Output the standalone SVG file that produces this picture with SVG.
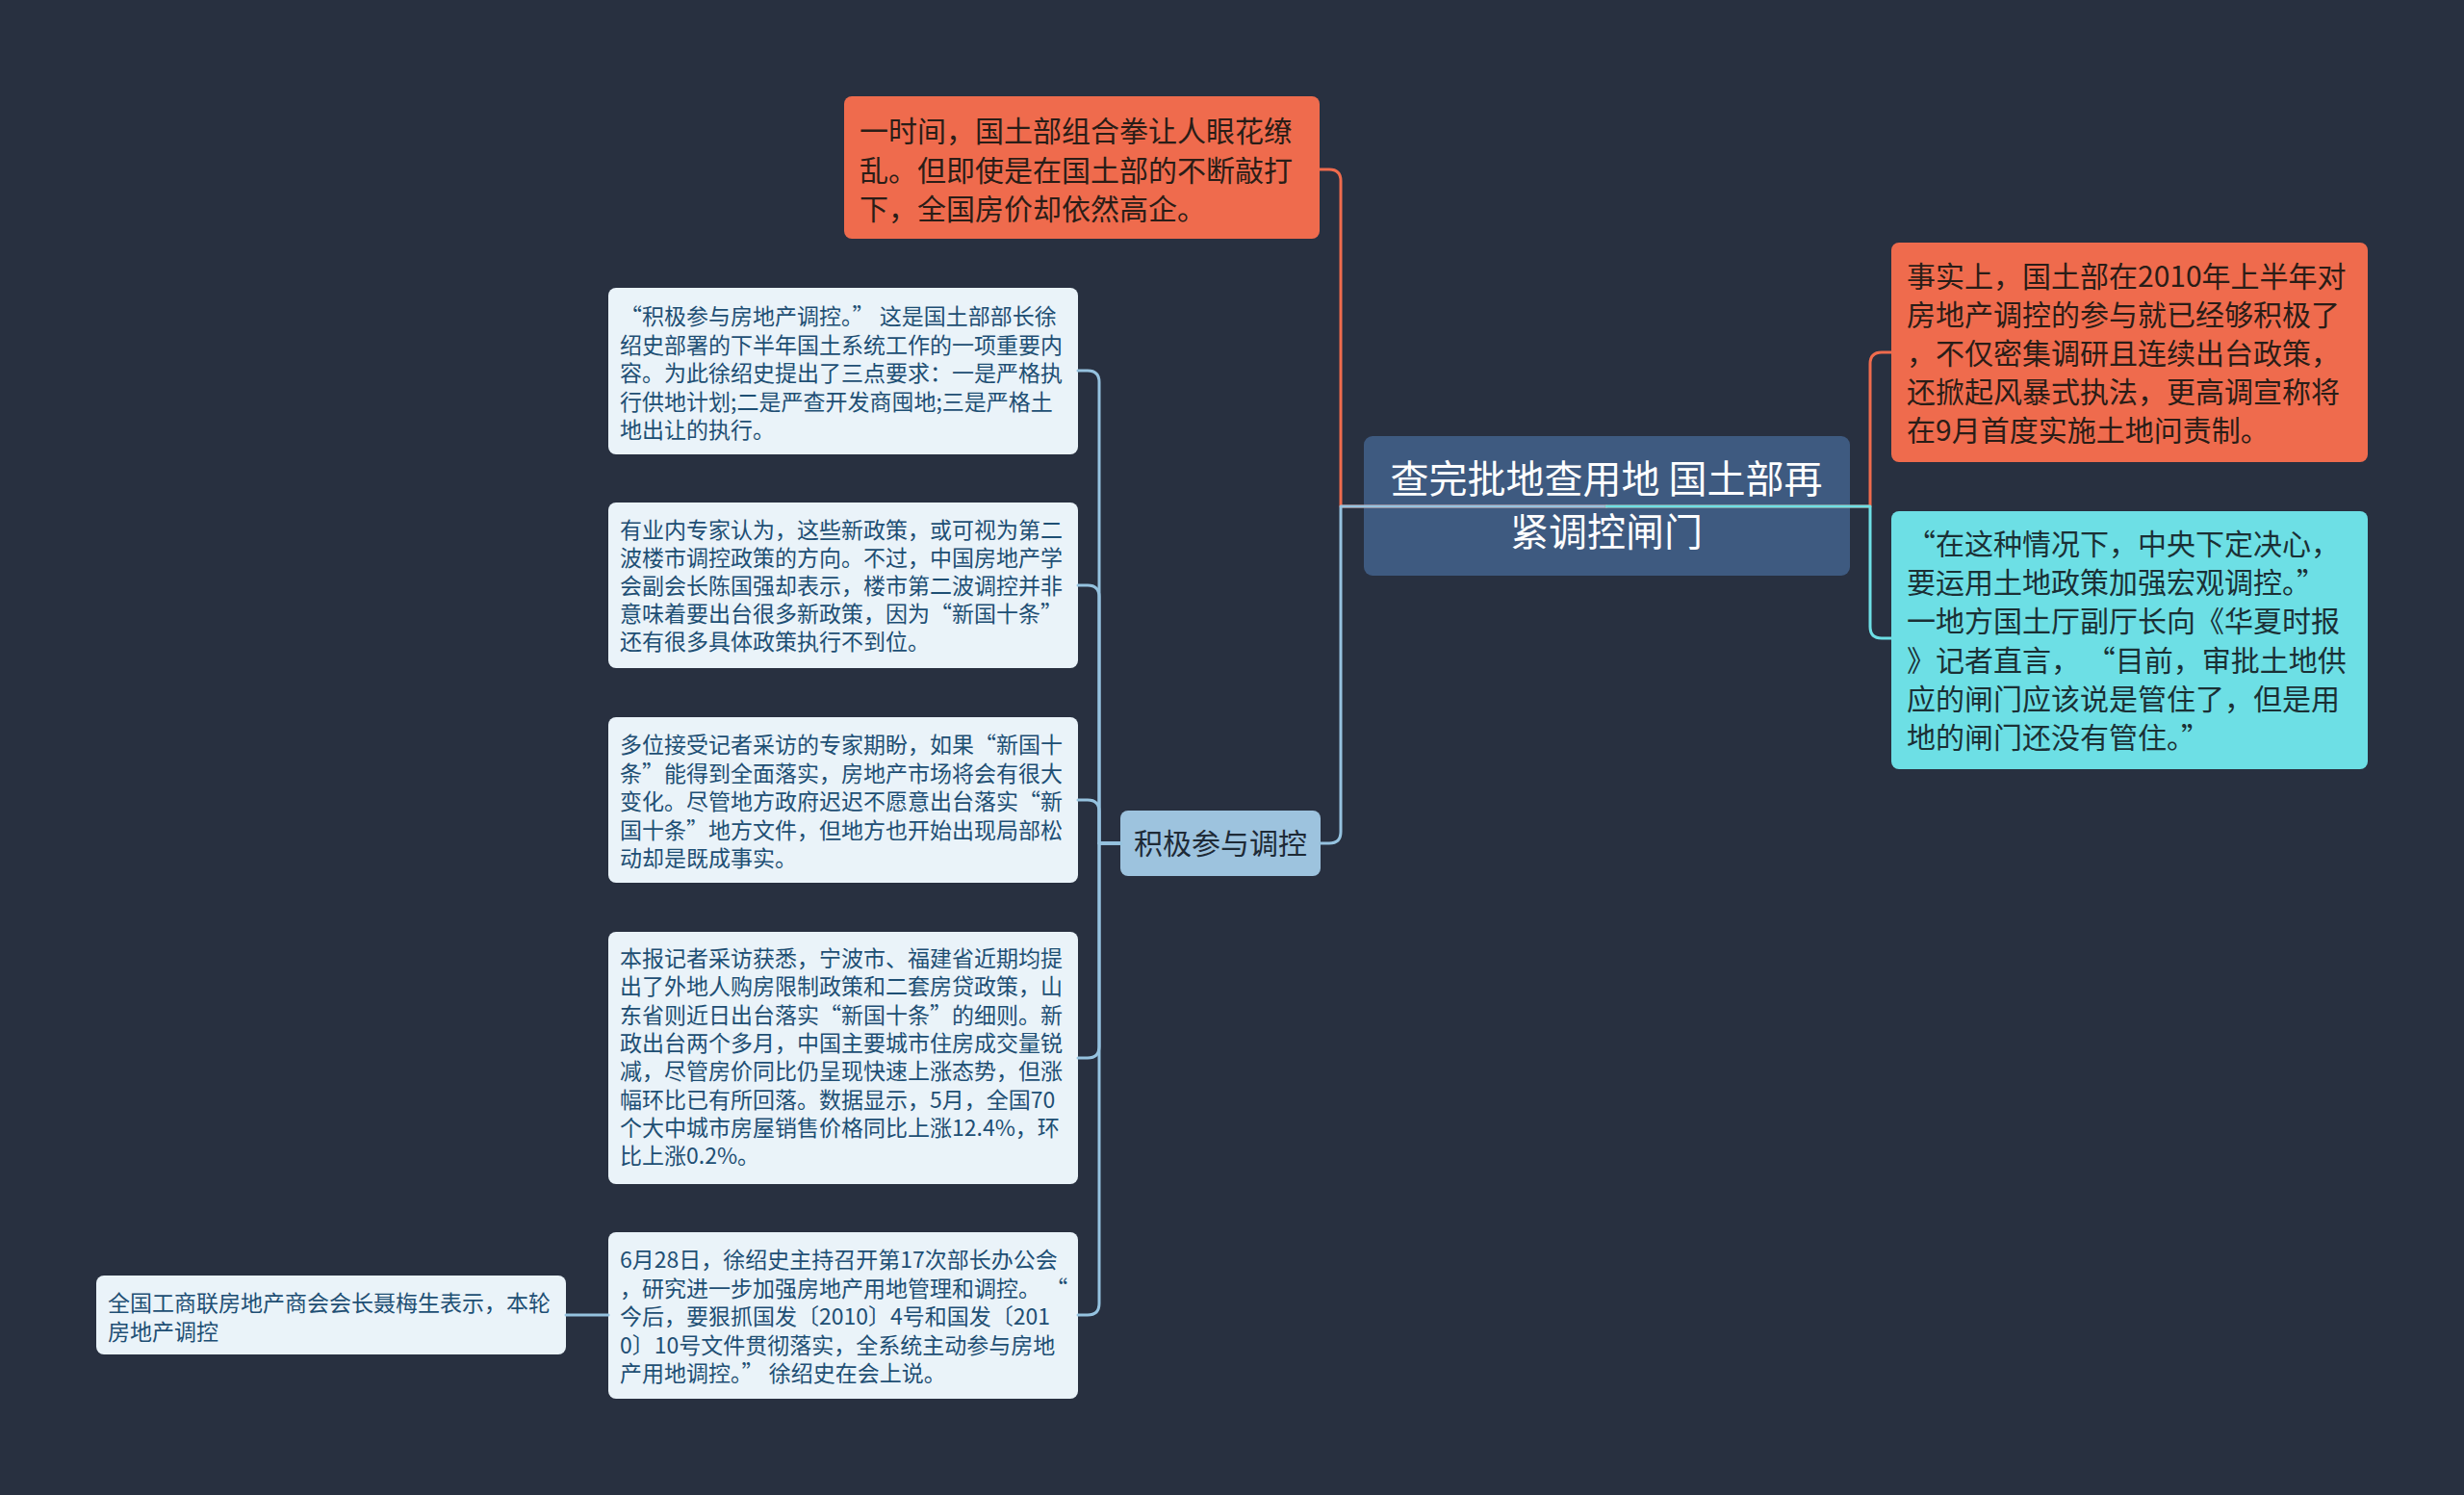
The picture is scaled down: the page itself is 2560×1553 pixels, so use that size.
<svg xmlns="http://www.w3.org/2000/svg" width="2560" height="1553" viewBox="0 0 2560 1553">
<style>
.t{font-family:'Noto Sans CJK SC','Noto Sans',sans-serif;}
.orange{fill:#ef6b4d;}
.cyan{fill:#6ddfe5;}
.light{fill:#eaf3f9;}
.sub{fill:#9dc3de;}
.root{fill:#3e5a80;}
.to{font-size:30px;fill:#2a1d17;}
.tc{font-size:30px;fill:#1b3035;}
.tl{font-size:23px;fill:#1e4f74;}
.tr{font-size:40px;fill:#ffffff;}
.ts{font-size:30px;fill:#1e2a36;}
.c{fill:none;stroke-width:3;stroke-linecap:round;stroke-linejoin:round;}
.co{stroke:#ef6b4d;}
.cb{stroke:#95c2df;}
.cc{stroke:#6ddfe5;}
</style>
<rect x="0" y="0" width="2560" height="1553" fill="#283040"/>

<g id="root">
<rect class="root" x="1417" y="453" width="505" height="145" rx="9"/>
<text class="t tr" x="1669" y="512" text-anchor="middle">查完批地查用地 国土部再</text>
<text class="t tr" x="1669" y="567" text-anchor="middle">紧调控闸门</text>
</g>

<g id="node-orange-left">
<rect class="orange" x="877" y="100" width="494" height="148" rx="8"/>
<text class="t to" x="893" y="147">一时间，国土部组合拳让人眼花缭</text>
<text class="t to" x="893" y="187.5">乱。但即使是在国土部的不断敲打</text>
<text class="t to" x="893" y="228">下，全国房价却依然高企。</text>
</g>

<g id="node-sub">
<rect class="sub" x="1164" y="842" width="208" height="68" rx="8"/>
<text class="t ts" x="1268" y="887" text-anchor="middle">积极参与调控</text>
</g>

<g id="node-l1">
<rect class="light" x="632" y="299" width="488" height="173" rx="8"/>
<text class="t tl" x="644" y="337"> “积极参与房地产调控。” 这是国土部部长徐</text>
<text class="t tl" x="644" y="366.5">绍史部署的下半年国土系统工作的一项重要内</text>
<text class="t tl" x="644" y="396">容。为此徐绍史提出了三点要求：一是严格执</text>
<text class="t tl" x="644" y="425.5">行供地计划;二是严查开发商囤地;三是严格土</text>
<text class="t tl" x="644" y="455">地出让的执行。</text>
</g>

<g id="node-l2">
<rect class="light" x="632" y="522" width="488" height="172" rx="8"/>
<text class="t tl" x="644" y="559">有业内专家认为，这些新政策，或可视为第二</text>
<text class="t tl" x="644" y="588">波楼市调控政策的方向。不过，中国房地产学</text>
<text class="t tl" x="644" y="617">会副会长陈国强却表示，楼市第二波调控并非</text>
<text class="t tl" x="644" y="646">意味着要出台很多新政策，因为“新国十条”</text>
<text class="t tl" x="644" y="675">还有很多具体政策执行不到位。</text>
</g>

<g id="node-l3">
<rect class="light" x="632" y="745" width="488" height="172" rx="8"/>
<text class="t tl" x="644" y="782">多位接受记者采访的专家期盼，如果“新国十</text>
<text class="t tl" x="644" y="811.5">条”能得到全面落实，房地产市场将会有很大</text>
<text class="t tl" x="644" y="841">变化。尽管地方政府迟迟不愿意出台落实“新</text>
<text class="t tl" x="644" y="870.5">国十条”地方文件，但地方也开始出现局部松</text>
<text class="t tl" x="644" y="900">动却是既成事实。</text>
</g>

<g id="node-l4">
<rect class="light" x="632" y="968" width="488" height="262" rx="8"/>
<text class="t tl" x="644" y="1004">本报记者采访获悉，宁波市、福建省近期均提</text>
<text class="t tl" x="644" y="1033.3">出了外地人购房限制政策和二套房贷政策，山</text>
<text class="t tl" x="644" y="1062.6">东省则近日出台落实“新国十条”的细则。新</text>
<text class="t tl" x="644" y="1091.9">政出台两个多月，中国主要城市住房成交量锐</text>
<text class="t tl" x="644" y="1121.2">减，尽管房价同比仍呈现快速上涨态势，但涨</text>
<text class="t tl" x="644" y="1150.5">幅环比已有所回落。数据显示，5月，全国70</text>
<text class="t tl" x="644" y="1179.8">个大中城市房屋销售价格同比上涨12.4%，环</text>
<text class="t tl" x="644" y="1209.1">比上涨0.2%。</text>
</g>

<g id="node-l5">
<rect class="light" x="632" y="1280" width="488" height="173" rx="8"/>
<text class="t tl" x="644" y="1317">6月28日，徐绍史主持召开第17次部长办公会</text>
<text class="t tl" x="644" y="1347">，研究进一步加强房地产用地管理和调控。 “</text>
<text class="t tl" x="644" y="1376">今后，要狠抓国发〔2010〕4号和国发〔201</text>
<text class="t tl" x="644" y="1406">0〕10号文件贯彻落实，全系统主动参与房地</text>
<text class="t tl" x="644" y="1435">产用地调控。” 徐绍史在会上说。</text>
</g>

<g id="node-l5a">
<rect class="light" x="100" y="1325" width="488" height="82" rx="8"/>
<text class="t tl" x="112" y="1362">全国工商联房地产商会会长聂梅生表示，本轮</text>
<text class="t tl" x="112" y="1392">房地产调控</text>
</g>

<g id="node-orange-right">
<rect class="orange" x="1965" y="252" width="495" height="228" rx="8"/>
<text class="t to" x="1981" y="298">事实上，国土部在2010年上半年对</text>
<text class="t to" x="1981" y="338">房地产调控的参与就已经够积极了</text>
<text class="t to" x="1981" y="378">，不仅密集调研且连续出台政策，</text>
<text class="t to" x="1981" y="418">还掀起风暴式执法，更高调宣称将</text>
<text class="t to" x="1981" y="458">在9月首度实施土地问责制。</text>
</g>

<g id="node-cyan">
<rect class="cyan" x="1965" y="531" width="495" height="268" rx="8"/>
<text class="t tc" x="1981" y="576"> “在这种情况下，中央下定决心，</text>
<text class="t tc" x="1981" y="616">要运用土地政策加强宏观调控。”</text>
<text class="t tc" x="1981" y="656">一地方国土厅副厅长向《华夏时报</text>
<text class="t tc" x="1981" y="697">》记者直言， “目前，审批土地供</text>
<text class="t tc" x="1981" y="737">应的闸门应该说是管住了，但是用</text>
<text class="t tc" x="1981" y="777">地的闸门还没有管住。”</text>
</g>

<g id="connectors">
<path class="c co" d="M1669,526 H1393 V188 Q1393,176 1381,176 H1371"/>
<path class="c cb" d="M1669,526 H1393 V864 Q1393,876 1381,876 H1372"/>
<path class="c co" d="M1669,526 H1943 V378 Q1943,366 1955,366 H1965"/>
<path class="c cc" d="M1669,526 H1943 V651 Q1943,663 1955,663 H1965"/>
<path class="c cb" d="M1164,876 H1142 V397 Q1142,385 1130,385 H1120"/>
<path class="c cb" d="M1164,876 H1142 V620 Q1142,608 1130,608 H1120"/>
<path class="c cb" d="M1164,876 H1142 V843 Q1142,831 1130,831 H1120"/>
<path class="c cb" d="M1164,876 H1142 V1087 Q1142,1099 1130,1099 H1120"/>
<path class="c cb" d="M1164,876 H1142 V1354 Q1142,1366 1130,1366 H1120"/>
<path class="c cb" d="M632,1366 H588"/>
</g>
</svg>
